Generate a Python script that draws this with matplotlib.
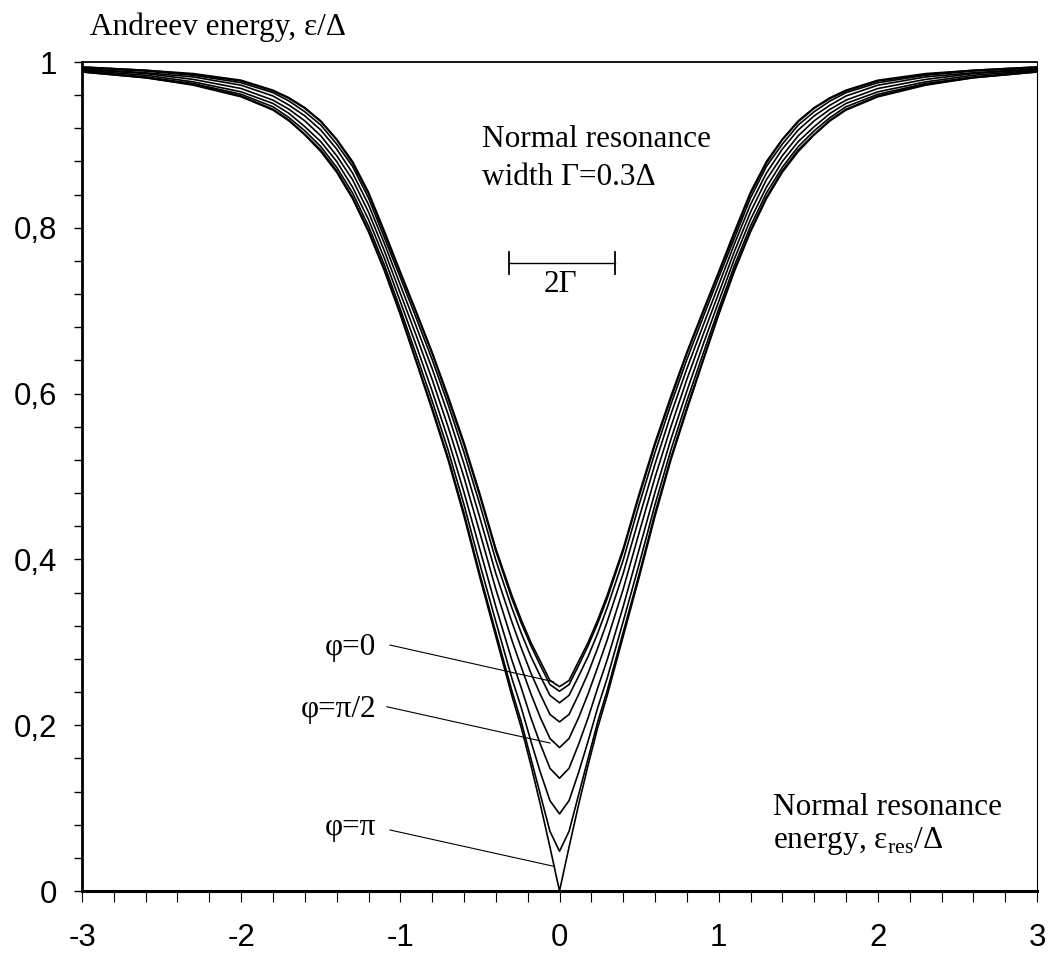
import matplotlib
matplotlib.use('Agg')
import matplotlib.pyplot as plt
from matplotlib.ticker import MultipleLocator, FixedLocator

plt.rcParams['font.family'] = ['Liberation Sans', 'DejaVu Sans']
plt.rcParams['axes.unicode_minus'] = False
plt.rcParams['mathtext.fontset'] = 'custom'
plt.rcParams['mathtext.rm'] = 'Liberation Serif'

# normal resonance energy (half axis, curves are symmetric about 0)
x_half = [0, 0.06, 0.12, 0.18, 0.24, 0.3, 0.4, 0.5, 0.6, 0.7, 0.8, 0.9, 1.0,
          1.1, 1.2, 1.3, 1.4, 1.5, 1.6, 1.7, 1.8, 2.0, 2.3, 2.6, 3.0]

# Andreev energy for phase phi = 0, pi/8, ..., pi
phi0 = [0.2465, 0.254, 0.277, 0.300, 0.327, 0.357, 0.413, 0.479, 0.541, 0.597, 0.650, 0.699, 0.747, 0.796, 0.843, 0.880, 0.907, 0.929, 0.945, 0.957, 0.966, 0.978, 0.986, 0.990, 0.994]
phi1 = [0.241, 0.249, 0.272, 0.296, 0.323, 0.353, 0.410, 0.476, 0.538, 0.594, 0.648, 0.697, 0.745, 0.793, 0.841, 0.878, 0.906, 0.928, 0.944, 0.956, 0.965, 0.977, 0.985, 0.990, 0.994]
phi2 = [0.227, 0.236, 0.259, 0.283, 0.311, 0.342, 0.399, 0.466, 0.529, 0.587, 0.641, 0.691, 0.740, 0.788, 0.836, 0.874, 0.901, 0.924, 0.940, 0.953, 0.963, 0.975, 0.984, 0.989, 0.993]
phi3 = [0.204, 0.213, 0.237, 0.263, 0.293, 0.325, 0.383, 0.450, 0.515, 0.575, 0.630, 0.681, 0.731, 0.781, 0.828, 0.866, 0.895, 0.918, 0.935, 0.948, 0.959, 0.972, 0.982, 0.987, 0.992]
phi4 = [0.173, 0.184, 0.209, 0.238, 0.270, 0.303, 0.364, 0.432, 0.499, 0.560, 0.617, 0.670, 0.721, 0.772, 0.819, 0.858, 0.887, 0.911, 0.929, 0.943, 0.954, 0.968, 0.979, 0.986, 0.991]
phi5 = [0.136, 0.148, 0.177, 0.209, 0.245, 0.279, 0.343, 0.412, 0.481, 0.545, 0.603, 0.658, 0.711, 0.763, 0.810, 0.849, 0.880, 0.904, 0.922, 0.938, 0.950, 0.964, 0.976, 0.984, 0.990]
phi6 = [0.093, 0.109, 0.143, 0.181, 0.221, 0.257, 0.325, 0.394, 0.466, 0.532, 0.591, 0.647, 0.702, 0.755, 0.802, 0.842, 0.873, 0.898, 0.917, 0.933, 0.946, 0.961, 0.974, 0.982, 0.989]
phi7 = [0.048, 0.072, 0.116, 0.160, 0.204, 0.242, 0.312, 0.382, 0.456, 0.523, 0.583, 0.640, 0.697, 0.750, 0.797, 0.837, 0.869, 0.894, 0.913, 0.930, 0.943, 0.959, 0.973, 0.981, 0.988]
phi8 = [0.0, 0.053, 0.104, 0.152, 0.197, 0.236, 0.307, 0.378, 0.452, 0.520, 0.580, 0.638, 0.695, 0.748, 0.795, 0.835, 0.867, 0.892, 0.912, 0.929, 0.942, 0.958, 0.972, 0.981, 0.988]
curves = [phi0, phi1, phi2, phi3, phi4, phi5, phi6, phi7, phi8]

y_ticks = [0, 0.2, 0.4, 0.6, 0.8, 1.0]
y_ticklabels = ['0', '0,2', '0,4', '0,6', '0,8', '1']
x_ticks = [-3, -2, -1, 0, 1, 2, 3]

serif = ['Liberation Serif', 'DejaVu Serif']

fig = plt.figure(figsize=(10.53, 9.55), dpi=100)
ax = fig.add_axes([82/1053, 64/955, 955/1053, 829/955])

xs = [-v for v in reversed(x_half[1:])] + x_half
for y in curves:
    ys = list(reversed(y[1:])) + y
    ax.plot(xs, ys, color='black', lw=1.2)

ax.set_xlim(-3, 3)
ax.set_ylim(0, 1)

ax.spines['left'].set_linewidth(2.0)
ax.spines['bottom'].set_linewidth(2.2)
ax.spines['top'].set_linewidth(1.3)
ax.spines['right'].set_linewidth(0.8)

ax.xaxis.set_major_locator(FixedLocator(x_ticks))
ax.xaxis.set_minor_locator(MultipleLocator(0.2))
ax.yaxis.set_major_locator(FixedLocator(y_ticks))
ax.set_yticklabels(y_ticklabels)
ax.yaxis.set_minor_locator(MultipleLocator(0.04))
ax.tick_params(axis='x', which='both', direction='out', length=8.0, width=0.8,
               labelsize=22.5, pad=15)
ax.tick_params(axis='y', which='both', direction='out', length=5.8, width=1.0,
               labelsize=22.5, pad=12)

# axis titles
fig.text(90/1053, 1 - 35/955, 'Andreev energy, ε/Δ', family=serif, fontsize=22.5,
         ha='left', va='baseline')
ax.text(1.341, 0.0917, 'Normal resonance', family=serif, fontsize=22.5,
        ha='left', va='baseline')
ax.text(1.341, 0.0519, r'energy, ε$_{\mathrm{res}}$/Δ', family=serif, fontsize=22.5,
        ha='left', va='baseline')

# resonance width note and scale bar
ax.text(-0.487, 0.8975, 'Normal resonance', family=serif, fontsize=22.5,
        ha='left', va='baseline')
ax.text(-0.487, 0.8516, 'width Γ=0.3Δ', family=serif, fontsize=22.5,
        ha='left', va='baseline')
ax.plot([-0.32, 0.35], [0.7575, 0.7575], color='black', lw=1.0)
ax.plot([-0.32, -0.32], [0.744, 0.771], color='black', lw=1.3)
ax.plot([0.35, 0.35], [0.744, 0.771], color='black', lw=1.3)
ax.text(0.003, 0.7229, '2Γ', family=serif, fontsize=22.5, ha='center', va='baseline')

# phase labels with leader lines
labels = ['φ=0', 'φ=π/2', 'φ=π']
label_y = [0.2847, 0.2103, 0.0676]
line_start = [(-1.065, 0.2967), (-1.085, 0.2223), (-1.065, 0.0736)]
line_end = [(-0.039, 0.2525), (-0.06, 0.1785), (-0.041, 0.030)]
for lab, ly, (x0, y0), (x1, y1) in zip(labels, label_y, line_start, line_end):
    ax.text(-1.153, ly, lab, family=serif, fontsize=22.5, ha='right', va='baseline')
    ax.plot([x0, x1], [y0, y1], color='black', lw=0.8)

fig.savefig('out.png', dpi=100)
